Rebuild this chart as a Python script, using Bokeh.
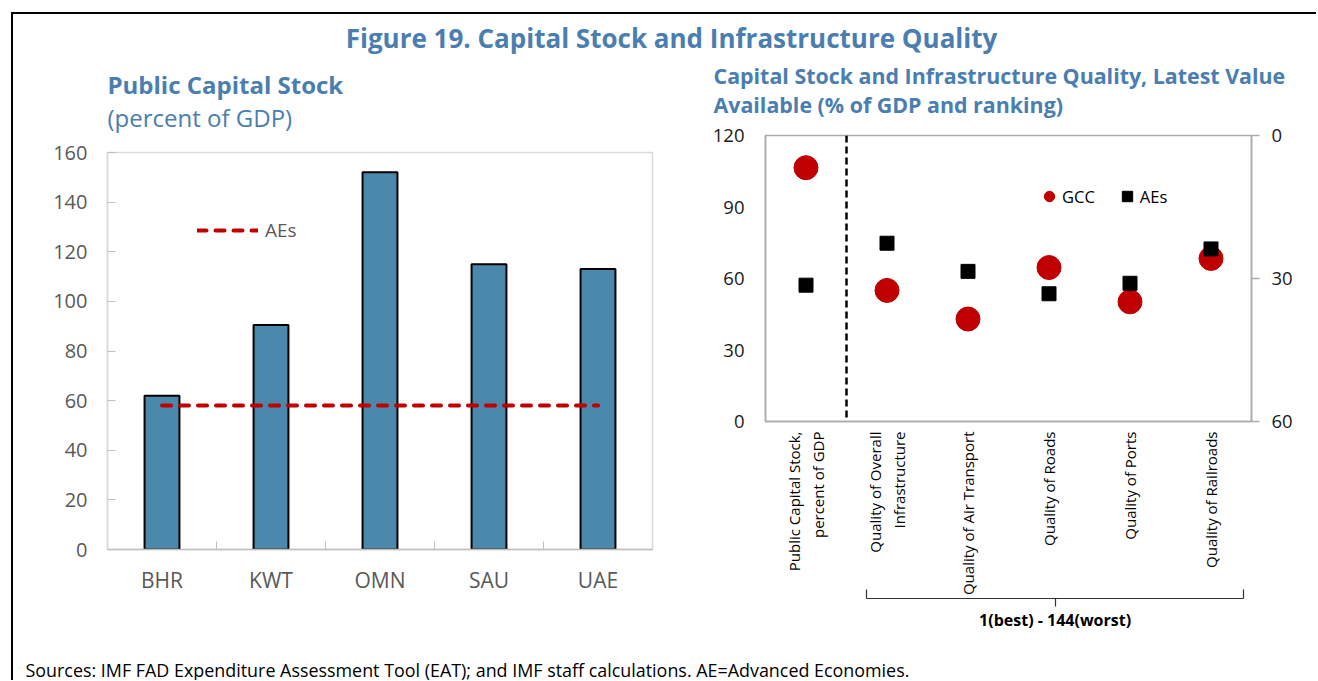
import math
from bokeh.plotting import figure
from bokeh.models import (Range1d, FactorRange, LinearAxis, FixedTicker, Legend, LegendItem,
                          Label, Span)
from bokeh.layouts import column, row
from bokeh.embed import file_html
from bokeh.resources import INLINE

# ---------------- data ----------------
countries = ["BHR", "KWT", "OMN", "SAU", "UAE"]
public_capital = [62.0, 90.5, 152.0, 115.0, 113.0]
ae_public_capital = 58.0

indicators = ["Public Capital Stock,\npercent of GDP", "Quality of Overall\nInfrastructure",
              "Quality of Air Transport", "Quality of Roads", "Quality of Ports",
              "Quality of Railroads"]
gcc_capital = 106.5          # percent of GDP (left axis)
aes_capital = 57.2           # percent of GDP (left axis)
gcc_rank = [32.5, 38.5, 27.7, 34.9, 25.8]   # ranking (right axis)
aes_rank = [22.6, 28.5, 33.2, 31.0, 23.8]   # ranking (right axis)

left_ticks = [0, 20, 40, 60, 80, 100, 120, 140, 160]
pct_ticks = [0, 30, 60, 90, 120]
rank_ticks = [0, 20, 40, 60]
brace_span = (1.25, 5.9)     # ranking indicators covered by the brace (category units)

main_title = "Figure 19. Capital Stock and Infrastructure Quality"
left_title = "Public Capital Stock"
left_sub = "(percent of GDP)"
right_title1 = "Capital Stock and Infrastructure Quality, Latest Value"
right_title2 = "Available (% of GDP and ranking)"
brace_text = "1(best) - 144(worst)"
footer_text = "Sources:  IMF FAD Expenditure Assessment Tool (EAT); and IMF staff calculations. AE=Advanced Economies."

# ---------------- styles ----------------
FONT = "Open Sans"
TBLUE = "#4A7EB0"
BAR = "#4A89AC"
RED = "#C00000"
GREY_TXT = "#595959"
W_ALL = 1303
W_L = 688
W_R = W_ALL - W_L
ROW_H = 595


def text_fig(w, h):
    f = figure(width=w, height=h, x_range=Range1d(0, 1), y_range=Range1d(0, 1),
               toolbar_location=None, output_backend="svg",
               x_axis_location=None, y_axis_location=None, min_border=0,
               outline_line_color=None)
    for g in f.grid:
        g.visible = False
    return f


def slabel(x, y, text, size, bold=False, color="black", align="left"):
    return Label(x=x, y=y, x_units="screen", y_units="screen", text=text,
                 text_font=FONT, text_font_size=size,
                 text_font_style="bold" if bold else "normal",
                 text_color=color, text_align=align, text_baseline="middle")


# ---------------- header ----------------
hdr = text_fig(W_ALL, 46)
hdr.add_layout(slabel(658, 23, main_title, "26px", bold=True, color=TBLUE, align="center"))

# ---------------- left chart ----------------
TL_H = 75
tl = text_fig(W_L, TL_H)
tl.add_layout(slabel(94, 51, left_title, "24px", bold=True, color=TBLUE))
tl.add_layout(slabel(94, 18, left_sub, "24px", color=TBLUE))

x_idx = list(range(len(countries)))
pl = figure(width=W_L, height=ROW_H - TL_H,
            x_range=Range1d(-0.5, len(countries) - 0.5), y_range=Range1d(0, 160),
            toolbar_location=None, output_backend="svg",
            min_border_left=94, min_border_right=W_L - 94 - 545,
            min_border_top=17, min_border_bottom=ROW_H - TL_H - 17 - 397,
            outline_line_color="#D9D9D9", outline_line_width=1.5)
pl.xgrid.visible = False
pl.ygrid.visible = False
pl.vbar(x=x_idx, top=public_capital, width=0.32, fill_color=BAR,
        line_color="black", line_width=2)
ae_line = pl.line(x=x_idx, y=[ae_public_capital] * len(countries), line_color=RED,
                  line_width=4, line_dash="9 9", line_cap="round")

pl.xaxis.ticker = FixedTicker(ticks=x_idx, minor_ticks=[i + 0.5 for i in x_idx[:-1]])
pl.xaxis.major_label_overrides = {i: c for i, c in enumerate(countries)}
pl.xaxis.major_tick_in = 0
pl.xaxis.major_tick_out = 0
pl.xaxis.minor_tick_in = 8
pl.xaxis.minor_tick_out = 0
pl.xaxis.minor_tick_line_color = "#BFBFBF"
pl.xaxis.axis_line_color = "#BFBFBF"
pl.xaxis.axis_line_width = 1.5
pl.xaxis.major_label_standoff = 16
pl.xaxis.major_label_text_font_size = "21px"
pl.yaxis.ticker = FixedTicker(ticks=left_ticks)
pl.yaxis.major_tick_in = 8
pl.yaxis.major_tick_out = 0
pl.yaxis.minor_tick_line_color = None
pl.yaxis.major_tick_line_color = "#BFBFBF"
pl.yaxis.axis_line_color = "#D9D9D9"
pl.yaxis.axis_line_width = 1.5
pl.yaxis.major_label_standoff = 20
pl.yaxis.major_label_text_font_size = "20px"
for ax in (pl.xaxis[0], pl.yaxis[0]):
    ax.major_label_text_font = FONT
    ax.major_label_text_color = GREY_TXT

leg_l = Legend(items=[LegendItem(label="AEs", renderers=[ae_line])],
               location=(90, 306), orientation="horizontal",
               glyph_width=61, glyph_height=20, label_standoff=7,
               padding=0, margin=0, border_line_color=None, background_fill_alpha=0,
               label_text_font=FONT, label_text_font_size="19px", label_text_color=GREY_TXT)
pl.add_layout(leg_l)

# ---------------- right chart ----------------
TR_H = 60
tr = text_fig(W_R, TR_H)
tr.add_layout(slabel(12, 45, right_title1, "21.4px", bold=True, color=TBLUE))
tr.add_layout(slabel(12, 16, right_title2, "21.4px", bold=True, color=TBLUE))

pr = figure(width=W_R, height=ROW_H - TR_H, x_range=FactorRange(*indicators),
            y_range=Range1d(0, 120),
            toolbar_location=None, output_backend="svg",
            min_border_left=64, min_border_right=W_R - 64 - 486,
            min_border_top=15, min_border_bottom=ROW_H - TR_H - 15 - 286,
            outline_line_color="#ABABAB", outline_line_width=1.5)
pr.xgrid.visible = False
pr.ygrid.visible = False
pr.extra_y_ranges = {"rank": Range1d(60, 0)}
rax = LinearAxis(y_range_name="rank", ticker=FixedTicker(ticks=rank_ticks))
pr.add_layout(rax, "right")

pr.add_layout(Span(location=1, dimension="height", line_color="black",
                   line_width=2.5, line_dash="7 4"))

pr.scatter(x=[indicators[0]], y=[gcc_capital], marker="circle", size=24,
           fill_color=RED, line_color=RED)
gcc_r = pr.scatter(x=indicators[1:], y=gcc_rank, y_range_name="rank", marker="circle",
                   size=24, fill_color=RED, line_color=RED)
pr.scatter(x=[indicators[0]], y=[aes_capital], marker="square", size=14,
           fill_color="black", line_color="black")
aes_r = pr.scatter(x=indicators[1:], y=aes_rank, y_range_name="rank", marker="square",
                   size=14, fill_color="black", line_color="black")

pr.yaxis.ticker = FixedTicker(ticks=pct_ticks)
for ax in pr.yaxis:
    ax.major_label_text_font = FONT
    ax.major_label_text_font_size = "18.5px"
    ax.major_label_text_color = "#1A1A1A"
    ax.axis_line_color = "#ABABAB"
    ax.axis_line_width = 1.5
    ax.major_tick_line_color = "#ABABAB"
    ax.major_tick_line_width = 1.5
    ax.minor_tick_line_color = None
pr.yaxis[0].major_tick_in = 0
pr.yaxis[0].major_tick_out = 0
pr.yaxis[0].major_label_standoff = 21
rax.major_tick_in = 0
rax.major_tick_out = 8
rax.major_label_standoff = 12

pr.xaxis.major_label_orientation = math.pi / 2
pr.xaxis.major_label_text_font = FONT
pr.xaxis.major_label_text_font_size = "15px"
pr.xaxis.major_label_text_color = "black"
pr.xaxis.major_tick_line_color = None
pr.xaxis.axis_line_color = "#ABABAB"
pr.xaxis.axis_line_width = 1.5
pr.xaxis.major_label_standoff = 4

# brace below the ranking categories, drawn as a bounded axis
brace_mid = (brace_span[0] + brace_span[1]) / 2
brace = LinearAxis(ticker=FixedTicker(ticks=[brace_mid], minor_ticks=list(brace_span)),
                   bounds=brace_span,
                   major_label_overrides={brace_mid: brace_text},
                   major_tick_in=0, major_tick_out=8, minor_tick_in=9, minor_tick_out=0,
                   axis_line_color="#333333", axis_line_width=1.2,
                   major_tick_line_color="#333333", major_tick_line_width=1.2,
                   minor_tick_line_color="#333333", minor_tick_line_width=1.2,
                   major_label_standoff=2,
                   major_label_text_font=FONT, major_label_text_font_size="16px",
                   major_label_text_font_style="bold", major_label_text_color="black")
pr.add_layout(brace, "below")

leg_r = Legend(items=[LegendItem(label="GCC", renderers=[gcc_r]),
                      LegendItem(label="AEs", renderers=[aes_r])],
               location=(271, 212), orientation="horizontal",
               glyph_width=26, glyph_height=26, label_standoff=-4, spacing=19,
               padding=0, margin=0, border_line_color=None, background_fill_alpha=0,
               label_text_font=FONT, label_text_font_size="16.5px", label_text_color="black")
pr.add_layout(leg_r)

# ---------------- footer ----------------
ftr = text_fig(W_ALL, 25)
ftr.add_layout(slabel(12, 11, footer_text, "17.9px"))

layout = column(hdr,
                row(column(tl, row(pl)), column(tr, row(pr))),
                ftr,
                styles={"margin-left": "11px", "margin-top": "12px",
                        "border-left": "2px solid black", "border-top": "2px solid black"})
open("out.html", "w").write(file_html(layout, INLINE))
